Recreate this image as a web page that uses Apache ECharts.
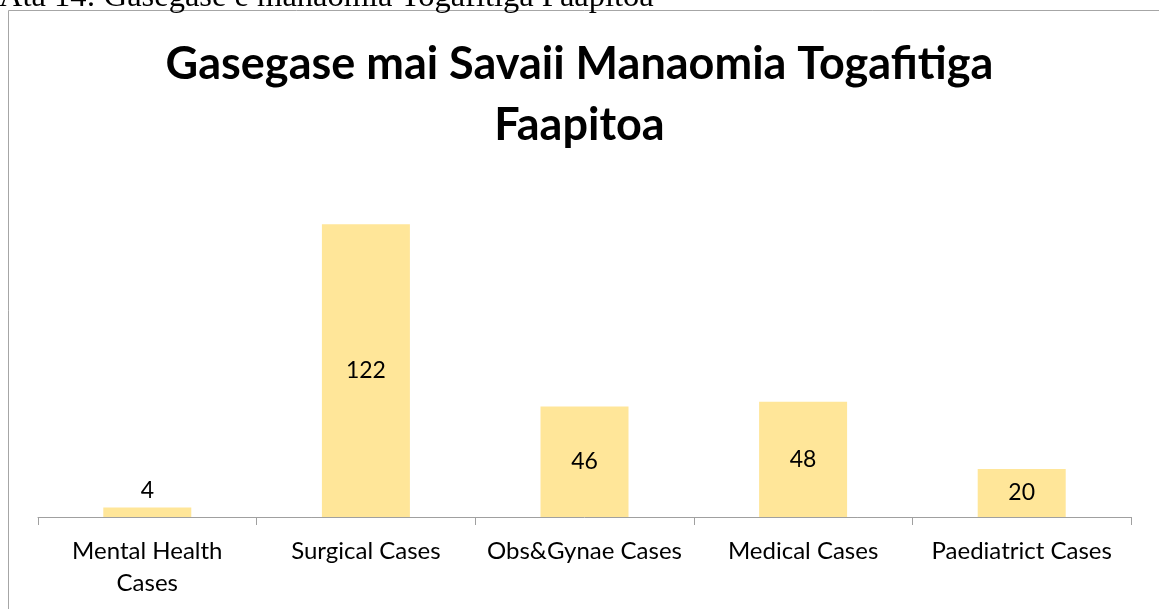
<!DOCTYPE html>
<html>
<head>
<meta charset="utf-8">
<script src="https://cdn.jsdelivr.net/npm/echarts@6/dist/echarts.min.js"></script>
<style>
  html, body { margin: 0; padding: 0; background: #fff; }
  #chart { width: 1159px; height: 609px; }
</style>
</head>
<body>
<div id="chart"></div>
<script>
var categories = ['Mental Health\nCases', 'Surgical Cases', 'Obs&Gynae Cases', 'Medical Cases', 'Paediatrict Cases'];
var caseCounts = [4, 122, 46, 48, 20];

var chart = echarts.init(document.getElementById('chart'));

var barData = caseCounts.map(function (v) {
  // small bar gets its label above, like the original
  if (v < 10) {
    return { value: v, label: { position: 'top' } };
  }
  return v;
});

var option = {
  animation: false,
  backgroundColor: '#fff',
  title: {
    text: 'Gasegase mai Savaii Manaomia Togafitiga\nFaapitoa',
    left: 'center',
    top: 29,
    textStyle: {
      fontFamily: 'Lato',
      fontSize: 45,
      fontWeight: 'bold',
      color: '#000',
      lineHeight: 61
    }
  },
  graphic: [
    {
      type: 'rect',
      shape: { x: 8.5, y: 10.5, width: 1300, height: 800 },
      style: { fill: 'none', stroke: '#a6a6a6', lineWidth: 1 },
      silent: true
    },
    {
      type: 'text',
      left: -1,
      top: -19,
      style: {
        text: 'Ata 14: Gasegase e manaomia Togafitiga Faapitoa',
        font: '32.5px "Liberation Serif"',
        fill: '#000'
      }
    }
  ],
  grid: {
    left: 38,
    right: 28,
    top: 181,
    bottom: 92
  },
  xAxis: {
    type: 'category',
    data: categories,
    axisLine: { lineStyle: { color: '#a0a0a0', width: 1 } },
    axisTick: { show: true, length: 8, lineStyle: { color: '#a0a0a0' } },
    axisLabel: {
      color: '#000',
      fontFamily: 'Lato',
      fontSize: 24,
      lineHeight: 32,
      margin: 18,
      interval: 0
    }
  },
  yAxis: {
    type: 'value',
    min: 0,
    max: 140,
    show: false
  },
  series: [
    {
      type: 'bar',
      data: barData,
      barWidth: 88,
      itemStyle: { color: '#ffe699' },
      label: {
        show: true,
        position: 'inside',
        color: '#000',
        fontFamily: 'Lato',
        fontSize: 23,
        distance: 5
      }
    }
  ]
};

chart.setOption(option);
</script>
</body>
</html>
